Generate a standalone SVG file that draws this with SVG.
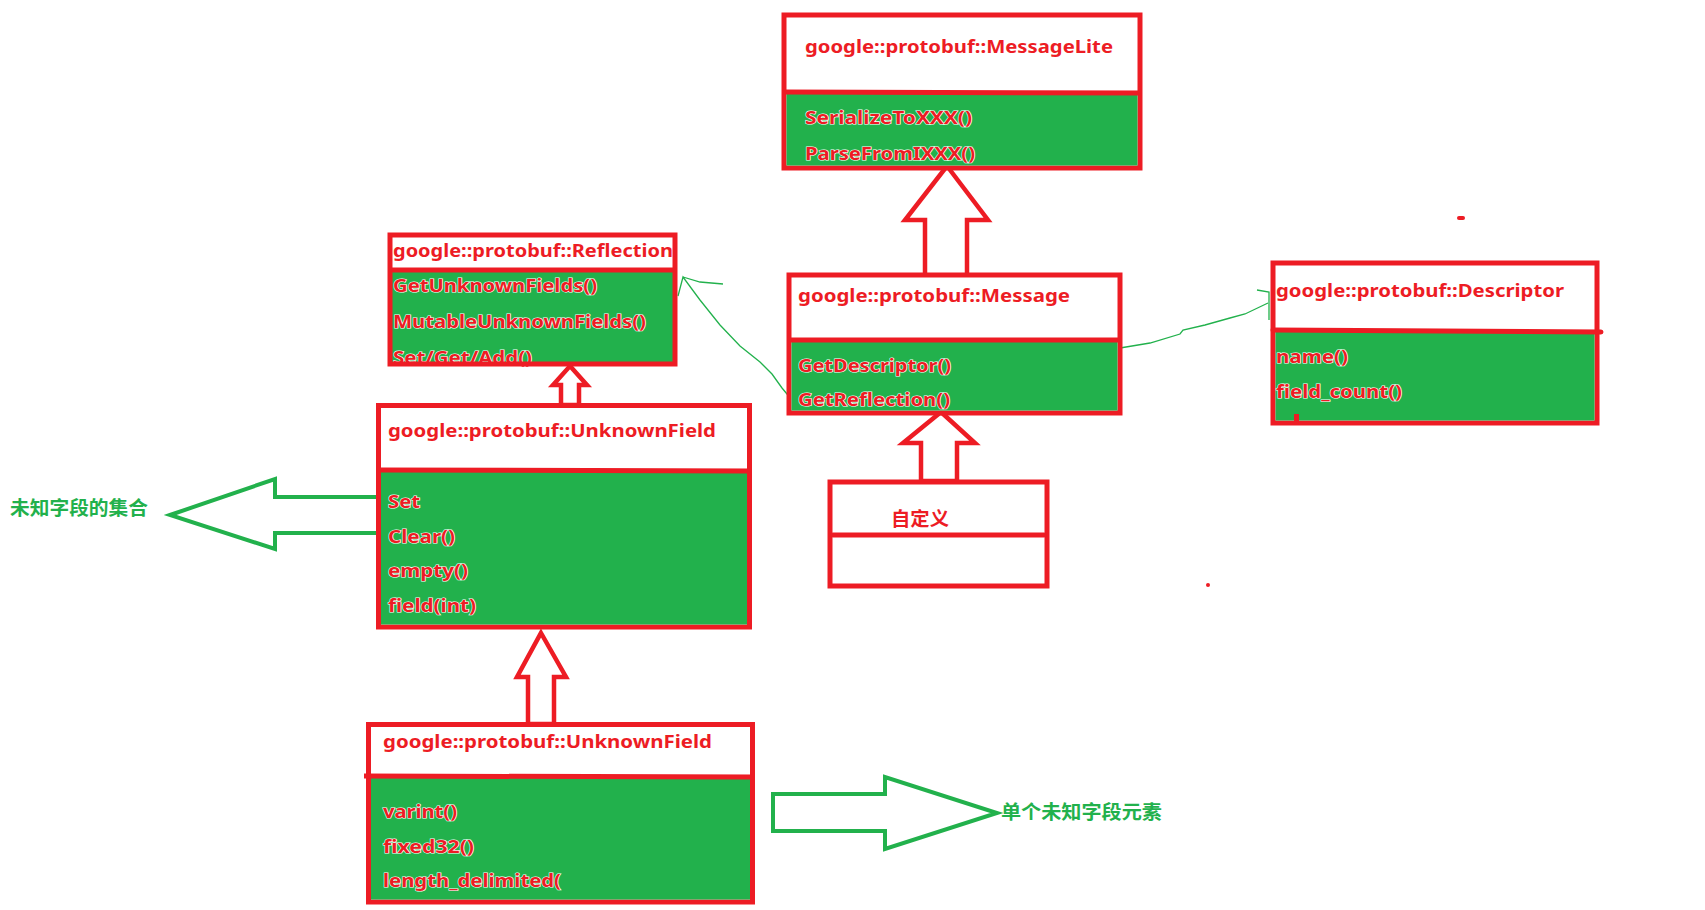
<svg xmlns="http://www.w3.org/2000/svg" width="1705" height="910" viewBox="0 0 1705 910">
<style>
.box{fill:#fff;stroke:#ed1c24;stroke-width:5}
.body{fill:#22b14c}
.div{stroke:#ed1c24;stroke-width:5;fill:none}
.t{font-family:"Noto Sans","Liberation Sans",sans-serif;font-weight:bold;font-size:18px;fill:#ed1c24}
.m{font-family:"Noto Sans","Liberation Sans",sans-serif;font-weight:bold;font-size:18px;fill:#ed1c24;stroke:#fff;stroke-width:1.2;paint-order:stroke}
.cn{font-family:"Noto Sans CJK SC",sans-serif;font-weight:bold;font-size:19px}
.rarrow{fill:#fff;stroke:#ed1c24;stroke-width:4.5;stroke-linejoin:miter}
.garrow{fill:#fff;stroke:#22b14c;stroke-width:4;stroke-linejoin:miter}
.thin{fill:none;stroke:#22b14c;stroke-width:1.3}
</style>
<rect width="1705" height="910" fill="#fff"/>
<g id="connectors">
<polygon class="rarrow" points="947,166 988,220 967,220 967,276 925,276 925,220 905,220"/>
<polygon class="rarrow" points="941,412 975,443 957,443 957,481 921,481 921,443 903,443"/>
<polygon class="rarrow" points="570,366 587,385 579,385 579,405 561,405 561,385 553,385"/>
<polygon class="rarrow" points="541,633 566,677 554,677 554,724 528,724 528,677 517,677"/>
<polygon class="garrow" points="170,515 275,479 275,497 378,497 378,533 275,533 275,549"/>
<polygon class="garrow" points="773,794 885,794 885,777 997,813 885,849 885,831 773,831"/>
<polyline class="thin" points="678,296 683,277 700,300 720,325 740,346 760,362 772,374 782,388 792,400"/>
<polyline class="thin" points="683,277 700,282 723,284"/>
<polyline class="thin" points="1120,348 1150,343 1180,334 1183,330 1205,325 1230,318 1245,314 1268,303"/>
<polyline class="thin" points="1257,290 1269,292 1269,320"/>
</g>
<g id="messagelite">
<rect class="box" x="784" y="15" width="356" height="153"/>
<rect class="body" x="786.5" y="92" width="351" height="73.5"/>
<line class="div" x1="784" y1="92" x2="1140" y2="93"/>
<text class="t" x="805" y="53" textLength="308" lengthAdjust="spacingAndGlyphs">google::protobuf::MessageLite</text>
<text class="m" x="805" y="124" textLength="167" lengthAdjust="spacingAndGlyphs">SerializeToXXX()</text>
<text class="m" x="805" y="160" textLength="170" lengthAdjust="spacingAndGlyphs">ParseFromIXXX()</text>
</g>
<g id="message">
<rect class="box" x="789" y="275" width="331" height="138"/>
<rect class="body" x="791.5" y="340" width="326" height="70.5"/>
<line class="div" x1="789" y1="340" x2="1120" y2="340"/>
<text class="t" x="798" y="302" textLength="272" lengthAdjust="spacingAndGlyphs">google::protobuf::Message</text>
<text class="m" x="798" y="372" textLength="153" lengthAdjust="spacingAndGlyphs">GetDescriptor()</text>
<text class="m" x="798" y="406" textLength="152" lengthAdjust="spacingAndGlyphs">GetReflection()</text>
</g>
<g id="custom">
<rect class="box" x="830" y="482" width="217" height="104"/>
<line class="div" x1="833" y1="535" x2="1044" y2="535" stroke-width="4" stroke-linecap="round"/>
<text class="cn" x="891" y="526" font-size="20" fill="#ed1c24" textLength="58" lengthAdjust="spacingAndGlyphs">自定义</text>
</g>
<g id="reflection">
<rect x="390" y="235" width="285" height="129" fill="#fff"/>
<rect class="body" x="392" y="270" width="281" height="92"/>
<text class="t" x="393" y="257" textLength="280" lengthAdjust="spacingAndGlyphs">google::protobuf::Reflection</text>
<text class="m" x="393" y="292" textLength="204" lengthAdjust="spacingAndGlyphs">GetUnknownFields()</text>
<text class="m" x="393" y="328" textLength="253" lengthAdjust="spacingAndGlyphs">MutableUnknownFields()</text>
<text class="m" x="393" y="364" textLength="139" lengthAdjust="spacingAndGlyphs">Set/Get/Add()</text>
<line class="div" x1="390" y1="270" x2="675" y2="270" stroke-width="4"/>
<rect x="390" y="235" width="285" height="129" fill="none" stroke="#ed1c24" stroke-width="5"/>
</g>
<g id="unknownfieldset">
<rect class="box" x="378.5" y="405.5" width="371" height="221.5"/>
<rect class="body" x="381" y="470" width="366" height="154.5"/>
<line class="div" x1="378.5" y1="470" x2="749.5" y2="471"/>
<text class="t" x="388" y="437" textLength="328" lengthAdjust="spacingAndGlyphs">google::protobuf::UnknownField</text>
<text class="m" x="388" y="508" textLength="32" lengthAdjust="spacingAndGlyphs">Set</text>
<text class="m" x="388" y="543" textLength="67" lengthAdjust="spacingAndGlyphs">Clear()</text>
<text class="m" x="388" y="577" textLength="80" lengthAdjust="spacingAndGlyphs">empty()</text>
<text class="m" x="388" y="612" textLength="88" lengthAdjust="spacingAndGlyphs">field(int)</text>
</g>
<g id="unknownfield">
<rect class="box" x="368.5" y="724.5" width="384" height="177.5"/>
<rect class="body" x="371" y="777" width="379" height="122.5"/>
<line class="div" x1="364" y1="776" x2="752.5" y2="777"/>
<text class="t" x="383" y="748" textLength="329" lengthAdjust="spacingAndGlyphs">google::protobuf::UnknownField</text>
<text class="m" x="383" y="818" textLength="74" lengthAdjust="spacingAndGlyphs">varint()</text>
<text class="m" x="383" y="853" textLength="91" lengthAdjust="spacingAndGlyphs">fixed32()</text>
<text class="m" x="383" y="887" textLength="178" lengthAdjust="spacingAndGlyphs">length_delimited(</text>
</g>
<g id="descriptor">
<rect class="box" x="1273" y="263" width="324" height="160"/>
<rect class="body" x="1275.5" y="331" width="319" height="89.5"/>
<line class="div" x1="1273" y1="330" x2="1601" y2="332" stroke-linecap="round"/>
<rect x="1294" y="414" width="5" height="7" fill="#ed1c24"/>
<text class="t" x="1276" y="297" textLength="288" lengthAdjust="spacingAndGlyphs">google::protobuf::Descriptor</text>
<text class="m" x="1276" y="363" textLength="72" lengthAdjust="spacingAndGlyphs">name()</text>
<text class="m" x="1276" y="398" textLength="126" lengthAdjust="spacingAndGlyphs">field_count()</text>
</g>
<g id="labels">
<text class="cn" x="10" y="515" fill="#22b14c" textLength="138" lengthAdjust="spacingAndGlyphs">未知字段的集合</text>
<text class="cn" x="1001" y="819" fill="#22b14c" textLength="161" lengthAdjust="spacingAndGlyphs">单个未知字段元素</text>
</g>
<rect x="1457" y="216" width="8" height="4" rx="2" fill="#ed1c24"/>
<circle cx="1208" cy="585" r="2" fill="#ed1c24"/>
</svg>
